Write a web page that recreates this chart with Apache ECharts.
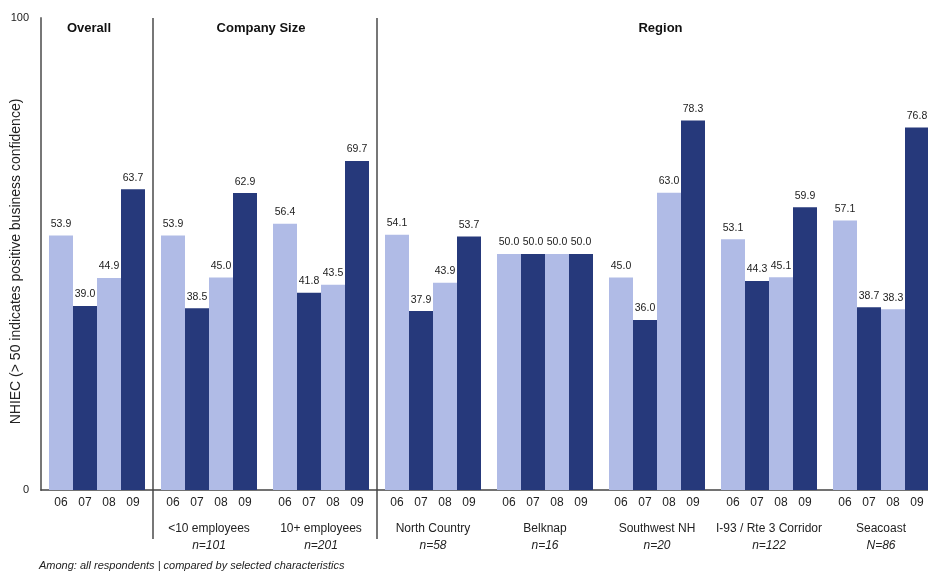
<!DOCTYPE html>
<html>
<head>
<meta charset="utf-8">
<script src="https://cdn.jsdelivr.net/npm/echarts@6/dist/echarts.min.js"></script>
<style>
  html, body { margin: 0; padding: 0; background: #fff; }
  #chart { width: 928px; height: 571px; }
</style>
</head>
<body>
<div id="chart"></div>
<script>
// Segments shown along the x axis
const groups = ['Overall', '<10 employees', '10+ employees', 'North Country', 'Belknap', 'Southwest NH', 'I-93 / Rte 3 Corridor', 'Seacoast'];
const groupNames = ['', '<10 employees', '10+ employees', 'North Country', 'Belknap', 'Southwest NH', 'I-93 / Rte 3 Corridor', 'Seacoast'];
const sampleSizes = ['', 'n=101', 'n=201', 'n=58', 'n=16', 'n=20', 'n=122', 'N=86'];
const years = ['06', '07', '08', '09'];

// NHIEC index by survey year
const y06 = [53.9, 53.9, 56.4, 54.1, 50.0, 45.0, 53.1, 57.1];
const y07 = [39.0, 38.5, 41.8, 37.9, 50.0, 36.0, 44.3, 38.7];
const y08 = [44.9, 45.0, 43.5, 43.9, 50.0, 63.0, 45.1, 38.3];
const y09 = [63.7, 62.9, 69.7, 53.7, 50.0, 78.3, 59.9, 76.8];

const yTicks = [0, 100];

const LIGHT = '#b0bbe6';
const DARK = '#26397b';
const FONT = 'Liberation Sans, Arial, Helvetica, sans-serif';

const chart = echarts.init(document.getElementById('chart'), null, { renderer: 'canvas' });

function makeSeries(name, values, color) {
  return {
    name: name,
    type: 'bar',
    data: values,
    barGap: '0%',
    barCategoryGap: (16 / 112 * 100) + '%',
    itemStyle: { color: color },
    label: {
      show: true,
      position: 'top',
      distance: 6,
      color: '#222',
      fontFamily: FONT,
      fontSize: 10.5,
      formatter: p => p.value.toFixed(1)
    },
    silent: true
  };
}

const hiddenAxisBits = {
  axisLine: { show: false },
  axisTick: { show: false },
  splitLine: { show: false }
};

chart.setOption({
  animation: false,
  backgroundColor: '#fff',
  grid: { left: 41, top: 18, width: 896, bottom: 81, containLabel: false, outerBoundsMode: 'none' },
  xAxis: [
    {
      type: 'category',
      data: groups,
      position: 'bottom',
      axisLine: { show: true, lineStyle: { color: '#444', width: 1.5 } },
      axisTick: { show: false },
      axisLabel: {
        margin: 7,
        interval: 0,
        formatter: () => years.map(y => '{y|' + y + '}').join(''),
        rich: {
          y: { width: 24, align: 'center', fontSize: 12, fontFamily: FONT, color: '#222' }
        }
      }
    },
    Object.assign({
      type: 'category',
      data: groupNames,
      position: 'bottom',
      gridIndex: 0,
      axisLabel: { margin: 33, interval: 0, fontSize: 12, fontFamily: FONT, color: '#222' }
    }, hiddenAxisBits),
    Object.assign({
      type: 'category',
      data: sampleSizes,
      position: 'bottom',
      gridIndex: 0,
      axisLabel: { margin: 50, interval: 0, fontSize: 12, fontStyle: 'italic', fontFamily: FONT, color: '#222' }
    }, hiddenAxisBits)
  ],
  yAxis: {
    type: 'value',
    min: yTicks[0],
    max: yTicks[1],
    interval: yTicks[1] - yTicks[0],
    name: 'NHIEC (> 50 indicates positive business confidence)',
    nameLocation: 'middle',
    nameGap: 18,
    nameRotate: 90,
    nameMoveOverlap: false,
    nameTextStyle: { fontSize: 14, fontFamily: FONT, color: '#222', padding: [0, 15, 0, 0] },
    axisLine: { show: true, lineStyle: { color: '#777', width: 2 } },
    axisTick: { show: false },
    splitLine: { show: false },
    axisLabel: { margin: 12, fontSize: 11, fontFamily: FONT, color: '#222' }
  },
  series: [
    makeSeries(years[0], y06, LIGHT),
    makeSeries(years[1], y07, DARK),
    makeSeries(years[2], y08, LIGHT),
    makeSeries(years[3], y09, DARK)
  ]
});

// Section dividers sit on the boundaries between category bands
function boundaryX(i) {
  const a = chart.convertToPixel({ xAxisIndex: 0 }, groups[i]);
  const b = chart.convertToPixel({ xAxisIndex: 0 }, groups[i + 1]);
  return (a + b) / 2;
}
const topY = chart.convertToPixel({ yAxisIndex: 0 }, yTicks[1]);
const divX1 = boundaryX(0);
const divX2 = boundaryX(2);
const axisX = 2 * chart.convertToPixel({ xAxisIndex: 0 }, groups[0]) - divX1;

function divider(x) {
  return {
    type: 'line',
    shape: { x1: x, y1: topY, x2: x, y2: 539 },
    style: { stroke: '#777', lineWidth: 2 },
    silent: true
  };
}
function header(text, x) {
  return {
    type: 'text',
    x: x, y: 28,
    style: {
      text: text, fill: '#111', font: 'bold 13px ' + FONT,
      textAlign: 'center', textVerticalAlign: 'middle'
    },
    silent: true
  };
}

chart.setOption({
  graphic: [
    divider(divX1),
    divider(divX2),
    header('Overall', (axisX + divX1) / 2 - 8),
    header('Company Size', (divX1 + divX2) / 2 - 4),
    header('Region', (divX2 + 928) / 2 + 8),
    {
      type: 'text',
      x: 39, y: 566,
      style: {
        text: 'Among: all respondents | compared by selected characteristics',
        fill: '#222', font: 'italic 11px ' + FONT,
        textAlign: 'left', textVerticalAlign: 'middle'
      },
      silent: true
    }
  ]
});
</script>
</body>
</html>
